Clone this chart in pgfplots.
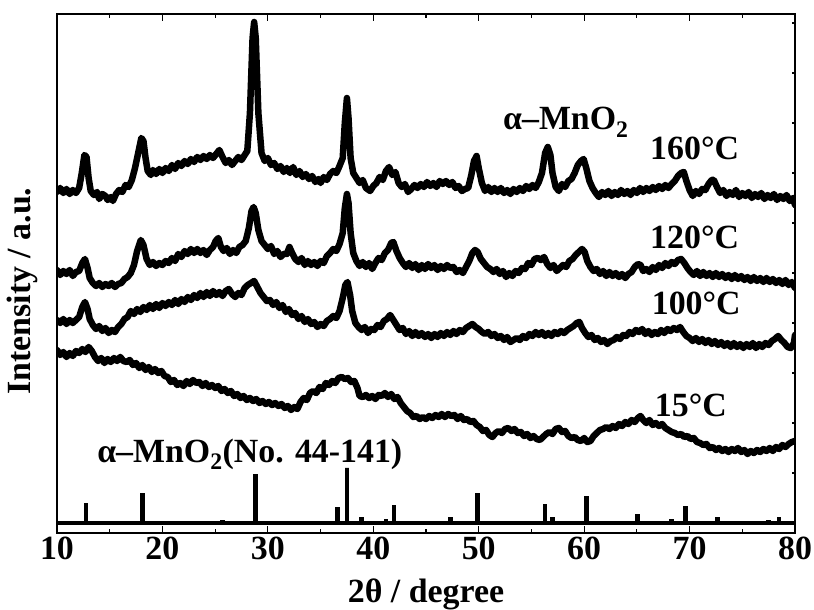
\documentclass[border=0pt]{standalone}
\usepackage{fontspec}
\setmainfont{Liberation Serif}
\usepackage{pgfplots}
\pgfplotsset{compat=1.18}

\begin{document}
\begin{tikzpicture}
\path[use as bounding box] (-57bp,-77bp) rectangle (757bp,533bp);
\begin{axis}[
  at={(0,0)}, anchor=south west,
  scale only axis, width=738bp, height=519bp,
  xmin=10, xmax=80, ymin=0, ymax=519,
  xtick={10,20,...,80}, minor x tick num=1,
  ytick=\empty, ytick pos=right,
  extra y ticks={10,60,...,510}, extra y tick labels={},
  extra y tick style={major tick length=3bp},
  tick align=inside,
  major tick length=7bp, minor tick length=4bp,
  axis line style={line width=1.5bp},
  tick style={line width=1.2bp, black},
  /pgf/number format/assume math mode=true,
  ticklabel style={font=\fontsize{34}{38}\selectfont\bfseries},
  label style={font=\fontsize{34}{38}\selectfont\bfseries},
  xlabel={2θ / degree},
  ylabel={Intensity / a.u.},
  xlabel style={at={(axis description cs:0.5,0)}, anchor=base, yshift=-69bp},
  ylabel style={at={(axis description cs:-0.047,0.466)}, anchor=center},
  every axis plot/.append style={black, line join=round, line cap=round},
]
% 160 C
\addplot[line width=6.5bp] coordinates {
(10.0,341)(10.3,345)(10.6,340)(10.9,344)(11.2,339)(11.5,343)(11.8,340)(12.1,345)(12.35,360)(12.6,378)
(12.8,376)(13.0,355)(13.2,342)(13.5,338)(13.8,341)(14.0,334)(14.3,339)(14.6,337)(14.8,333)(15.1,336)
(15.3,332)(15.6,339)(15.9,343)(16.2,341)(16.5,348)(16.8,346)(17.1,353)(17.4,365)(17.7,380)(18.0,395)
(18.2,392)(18.4,375)(18.6,362)(18.9,358)(19.1,363)(19.4,359)(19.7,364)(20.0,360)(20.3,365)(20.6,362)
(20.9,368)(21.2,364)(21.5,370)(21.8,367)(22.1,372)(22.4,369)(22.7,374)(23.0,371)(23.3,376)(23.6,373)
(23.9,377)(24.2,374)(24.5,378)(24.8,375)(25.1,379)(25.4,383)(25.7,376)(26.0,370)(26.3,373)(26.6,368)
(26.9,372)(27.2,376)(27.5,373)(27.8,378)(28.05,382)(28.3,420)(28.55,495)(28.7,511)(28.85,495)(29.1,420)
(29.4,380)(29.7,372)(30.0,375)(30.3,368)(30.6,370)(30.9,364)(31.2,367)(31.5,361)(31.8,365)(32.1,360)
(32.4,366)(32.7,358)(33.0,362)(33.3,356)(33.6,359)(33.9,354)(34.2,357)(34.5,351)(34.8,354)(35.0,350)
(35.3,356)(35.6,353)(35.9,359)(36.2,362)(36.5,360)(36.8,367)(37.1,375)(37.3,410)(37.5,435)(37.65,415)
(37.85,375)(38.1,360)(38.4,355)(38.7,350)(39.0,353)(39.3,345)(39.7,342)(40.0,347)(40.3,350)(40.6,356)
(40.9,353)(41.2,362)(41.5,366)(41.8,358)(42.1,361)(42.4,350)(42.7,346)(43.0,349)(43.3,341)(43.6,344)
(43.9,348)(44.2,345)(44.5,349)(44.8,346)(45.1,351)(45.4,347)(45.7,350)(46.0,346)(46.3,352)(46.6,349)
(46.9,352)(47.2,348)(47.5,351)(47.8,345)(48.1,347)(48.4,342)(48.7,344)(49.0,345)(49.3,358)(49.55,372)
(49.8,377)(50.0,365)(50.3,350)(50.6,342)(50.9,346)(51.2,341)(51.5,345)(51.8,341)(52.1,345)(52.4,340)
(52.7,343)(53.0,339)(53.3,344)(53.6,341)(53.9,345)(54.2,342)(54.5,347)(54.8,344)(55.1,348)(55.4,345)
(55.7,351)(56.0,360)(56.3,380)(56.55,386)(56.8,378)(57.0,360)(57.3,346)(57.6,342)(57.9,349)(58.2,346)
(58.5,352)(58.8,354)(59.1,360)(59.4,368)(59.7,372)(59.95,374)(60.2,365)(60.5,352)(60.8,345)(61.1,340)
(61.4,336)(61.7,341)(62.0,338)(62.3,342)(62.6,337)(62.9,341)(63.2,338)(63.5,343)(63.8,339)(64.1,342)
(64.4,338)(64.7,343)(65.0,340)(65.3,345)(65.6,341)(65.9,345)(66.2,342)(66.5,346)(66.8,343)(67.1,347)
(67.4,344)(67.7,348)(68.0,345)(68.3,349)(68.6,352)(68.9,357)(69.2,360)(69.45,361)(69.7,352)(70.0,343)
(70.3,337)(70.6,342)(70.9,339)(71.2,344)(71.5,343)(71.8,349)(72.1,353)(72.3,353)(72.6,346)(72.9,340)
(73.2,343)(73.5,337)(73.8,341)(74.1,338)(74.4,343)(74.7,336)(75.0,340)(75.3,337)(75.6,341)(75.9,335)
(76.2,339)(76.5,336)(76.8,340)(77.1,334)(77.4,338)(77.7,335)(78.0,339)(78.3,333)(78.6,337)(78.9,334)
(79.2,338)(79.5,332)(79.8,335)(80.0,328)
};
% 120 C
\addplot[line width=6.5bp] coordinates {
(10.0,263)(10.3,258)(10.6,262)(10.9,259)(11.2,263)(11.5,257)(11.8,261)(12.1,262)(12.4,270)(12.65,274)
(12.9,265)(13.1,255)(13.4,250)(13.7,247)(14.0,250)(14.3,246)(14.6,249)(14.9,247)(15.2,250)(15.5,246)
(15.8,249)(16.1,250)(16.4,254)(16.7,256)(17.0,260)(17.3,268)(17.6,282)(17.95,293)(18.2,288)(18.5,274)
(18.8,268)(19.1,271)(19.4,267)(19.7,270)(20.0,268)(20.3,272)(20.6,270)(20.9,275)(21.2,272)(21.5,279)
(21.8,276)(22.1,282)(22.4,279)(22.7,284)(23.0,280)(23.3,284)(23.6,280)(23.9,283)(24.2,278)(24.5,283)
(24.8,286)(25.05,292)(25.3,295)(25.55,286)(25.8,282)(26.1,285)(26.4,279)(26.7,283)(27.0,280)(27.3,286)
(27.6,288)(27.9,292)(28.2,305)(28.45,322)(28.65,326)(28.85,320)(29.1,303)(29.4,292)(29.7,288)(30.0,284)
(30.3,287)(30.6,279)(30.9,282)(31.2,276)(31.5,279)(31.8,279)(32.05,286)(32.3,280)(32.6,274)(32.9,271)
(33.2,275)(33.5,268)(33.8,272)(34.1,268)(34.4,271)(34.7,267)(35.0,272)(35.3,270)(35.6,277)(35.9,280)
(36.2,284)(36.5,282)(36.8,289)(37.1,300)(37.3,325)(37.5,339)(37.65,330)(37.85,300)(38.1,280)(38.4,272)
(38.7,267)(39.0,271)(39.3,266)(39.6,270)(39.9,264)(40.2,270)(40.5,275)(40.8,273)(41.1,280)(41.4,283)
(41.7,290)(41.9,291)(42.2,282)(42.5,275)(42.8,270)(43.1,266)(43.4,270)(43.7,265)(44.0,269)(44.3,263)
(44.6,268)(44.9,264)(45.2,269)(45.5,265)(45.8,268)(46.1,263)(46.4,267)(46.7,264)(47.0,268)(47.3,265)
(47.6,266)(47.9,261)(48.2,263)(48.5,260)(48.8,266)(49.1,272)(49.4,280)(49.65,283)(49.9,281)(50.2,274)
(50.5,270)(50.8,266)(51.1,264)(51.4,261)(51.7,264)(52.0,259)(52.3,262)(52.6,256)(52.9,260)(53.2,257)
(53.5,262)(53.8,260)(54.1,265)(54.4,264)(54.7,270)(55.0,268)(55.3,274)(55.6,275)(55.9,273)(56.2,276)
(56.5,269)(56.8,265)(57.1,268)(57.4,262)(57.7,265)(58.0,268)(58.3,266)(58.6,272)(58.9,274)(59.2,278)
(59.5,281)(59.8,284)(60.05,281)(60.3,272)(60.6,266)(60.9,262)(61.2,264)(61.5,259)(61.8,262)(62.1,257)
(62.4,261)(62.7,257)(63.0,260)(63.3,256)(63.6,259)(63.9,255)(64.2,259)(64.5,261)(64.8,266)(65.1,269)
(65.35,268)(65.6,262)(65.9,264)(66.2,261)(66.5,266)(66.8,263)(67.1,268)(67.4,265)(67.7,270)(68.0,267)
(68.3,271)(68.6,269)(68.9,273)(69.2,274)(69.5,270)(69.8,265)(70.1,261)(70.4,258)(70.7,262)(71.0,257)
(71.3,261)(71.6,257)(71.9,260)(72.2,256)(72.5,260)(72.8,256)(73.1,259)(73.4,255)(73.7,258)(74.0,254)
(74.3,258)(74.6,254)(74.9,257)(75.2,253)(75.5,256)(75.8,252)(76.1,256)(76.4,252)(76.7,255)(77.0,251)
(77.3,255)(77.6,251)(77.9,254)(78.2,250)(78.5,253)(78.8,249)(79.1,253)(79.4,248)(79.7,251)(80.0,245)
};
% 100 C
\addplot[line width=6.5bp] coordinates {
(10.0,213)(10.3,210)(10.6,214)(10.9,209)(11.2,213)(11.5,210)(11.8,213)(12.1,216)(12.4,226)(12.65,231)
(12.9,224)(13.1,214)(13.4,208)(13.7,204)(14.0,207)(14.3,202)(14.6,205)(14.9,200)(15.2,203)(15.5,201)
(15.8,206)(16.1,209)(16.4,214)(16.7,216)(17.0,222)(17.3,219)(17.6,224)(17.9,221)(18.2,226)(18.5,223)
(18.8,228)(19.1,224)(19.4,229)(19.7,225)(20.0,230)(20.3,227)(20.6,231)(20.9,228)(21.2,233)(21.5,229)
(21.8,234)(22.1,231)(22.4,236)(22.7,233)(23.0,238)(23.3,235)(23.6,240)(23.9,236)(24.2,241)(24.5,237)
(24.8,242)(25.1,238)(25.4,241)(25.7,237)(26.0,242)(26.3,244)(26.6,239)(26.9,236)(27.2,240)(27.5,238)
(27.8,245)(28.1,248)(28.4,250)(28.7,252)(29.0,246)(29.3,240)(29.6,236)(29.9,232)(30.2,233)(30.5,228)
(30.8,231)(31.1,225)(31.4,228)(31.7,221)(32.0,224)(32.3,218)(32.6,220)(32.9,214)(33.2,217)(33.5,211)
(33.8,214)(34.1,209)(34.4,211)(34.7,206)(35.0,209)(35.3,207)(35.6,212)(35.9,214)(36.2,217)(36.5,215)
(36.8,222)(37.1,235)(37.35,248)(37.55,251)(37.8,238)(38.0,222)(38.3,210)(38.6,206)(38.9,203)(39.2,206)
(39.5,200)(39.8,204)(40.1,203)(40.4,208)(40.7,206)(41.0,212)(41.3,214)(41.6,218)(41.9,213)(42.2,208)
(42.5,203)(42.8,205)(43.1,199)(43.4,202)(43.7,197)(44.0,201)(44.3,197)(44.6,200)(44.9,196)(45.2,199)
(45.5,195)(45.8,199)(46.1,196)(46.4,200)(46.7,197)(47.0,201)(47.3,198)(47.6,202)(47.9,199)(48.2,203)
(48.5,201)(48.8,205)(49.1,207)(49.4,209)(49.7,206)(50.0,204)(50.3,201)(50.6,199)(50.9,201)(51.2,197)
(51.5,199)(51.8,195)(52.1,197)(52.4,193)(52.7,196)(53.0,191)(53.3,193)(53.6,195)(53.9,193)(54.2,197)
(54.5,195)(54.8,199)(55.1,197)(55.4,201)(55.7,198)(56.0,201)(56.3,197)(56.6,200)(56.9,197)(57.2,201)
(57.5,199)(57.8,202)(58.1,200)(58.4,203)(58.7,205)(59.0,207)(59.3,210)(59.55,211)(59.8,205)(60.1,200)
(60.4,196)(60.7,198)(61.0,193)(61.3,195)(61.6,191)(61.9,193)(62.2,189)(62.5,192)(62.8,193)(63.1,196)
(63.4,194)(63.7,198)(64.0,197)(64.3,201)(64.6,199)(64.9,203)(65.2,201)(65.5,204)(65.8,199)(66.1,202)
(66.4,198)(66.7,201)(67.0,199)(67.3,203)(67.6,200)(67.9,204)(68.2,202)(68.5,205)(68.8,203)(69.1,206)
(69.4,201)(69.7,197)(70.0,195)(70.3,192)(70.6,195)(70.9,191)(71.2,194)(71.5,190)(71.8,193)(72.1,189)
(72.4,192)(72.7,188)(73.0,191)(73.3,187)(73.6,190)(73.9,186)(74.2,190)(74.5,186)(74.8,189)(75.1,185)
(75.4,189)(75.7,186)(76.0,190)(76.3,185)(76.6,189)(76.9,186)(77.2,190)(77.5,188)(77.8,192)(78.1,194)
(78.4,197)(78.7,193)(79.0,190)(79.3,186)(79.6,185)(79.9,190)(80.0,198)
};
% 15 C
\addplot[line width=6.5bp] coordinates {
(10.0,183)(10.3,178)(10.6,181)(10.9,176)(11.2,180)(11.5,177)(11.8,182)(12.1,180)(12.4,184)(12.7,181)
(13.0,186)(13.3,182)(13.6,176)(13.9,172)(14.2,175)(14.5,170)(14.8,174)(15.1,171)(15.4,175)(15.7,172)
(16.0,176)(16.3,172)(16.6,171)(16.9,173)(17.2,168)(17.5,170)(17.8,165)(18.1,168)(18.4,163)(18.7,166)
(19.0,161)(19.3,164)(19.6,160)(19.9,162)(20.2,157)(20.5,156)(20.8,151)(21.1,153)(21.4,148)(21.7,150)
(22.0,147)(22.3,152)(22.6,149)(22.9,153)(23.2,150)(23.5,151)(23.8,147)(24.1,150)(24.4,146)(24.7,148)
(25.0,145)(25.3,147)(25.6,142)(25.9,144)(26.2,140)(26.5,142)(26.8,137)(27.1,139)(27.4,135)(27.7,137)
(28.0,133)(28.3,135)(28.6,132)(28.9,134)(29.2,130)(29.5,132)(29.8,129)(30.1,131)(30.4,128)(30.7,130)
(31.0,127)(31.3,129)(31.6,125)(31.9,127)(32.2,123)(32.5,126)(32.8,124)(33.1,131)(33.4,135)(33.7,133)
(34.0,140)(34.3,142)(34.6,140)(34.9,146)(35.2,144)(35.5,150)(35.8,148)(36.1,152)(36.4,150)(36.7,155)
(37.0,156)(37.3,154)(37.6,155)(37.9,151)(38.2,152)(38.5,145)(38.7,137)(39.0,136)(39.3,138)(39.6,135)
(39.9,137)(40.2,134)(40.5,138)(40.8,137)(41.1,140)(41.4,136)(41.7,139)(42.0,134)(42.3,136)(42.6,130)
(42.9,126)(43.2,122)(43.5,120)(43.8,116)(44.1,117)(44.4,114)(44.7,116)(45.0,114)(45.3,117)(45.6,115)
(45.9,118)(46.2,116)(46.5,119)(46.8,116)(47.1,119)(47.4,117)(47.7,118)(48.0,114)(48.3,117)(48.6,113)
(48.9,114)(49.2,111)(49.5,112)(49.8,108)(50.1,106)(50.4,102)(50.7,103)(51.0,98)(51.3,96)(51.6,100)
(51.9,102)(52.2,100)(52.5,104)(52.8,105)(53.1,102)(53.4,104)(53.7,100)(54.0,101)(54.3,97)(54.6,99)
(54.9,95)(55.2,97)(55.5,94)(55.8,93)(56.1,96)(56.4,99)(56.7,101)(57.0,99)(57.3,104)(57.6,105)
(57.9,101)(58.2,102)(58.5,97)(58.8,95)(59.1,96)(59.4,93)(59.7,92)(60.0,95)(60.3,91)(60.6,92)
(60.9,97)(61.2,100)(61.5,103)(61.8,104)(62.1,106)(62.4,104)(62.7,107)(63.0,105)(63.3,109)(63.6,107)
(63.9,111)(64.2,109)(64.5,113)(64.8,111)(65.1,115)(65.35,117)(65.6,113)(65.9,110)(66.2,113)(66.5,108)
(66.8,110)(67.1,107)(67.4,109)(67.7,105)(68.0,103)(68.3,101)(68.6,100)(68.9,98)(69.2,99)(69.5,96)
(69.8,97)(70.1,94)(70.4,95)(70.7,91)(71.0,90)(71.3,88)(71.6,89)(71.9,85)(72.2,86)(72.5,83)
(72.8,85)(73.1,82)(73.4,84)(73.7,81)(74.0,84)(74.3,82)(74.6,85)(74.9,81)(75.2,83)(75.5,79)
(75.8,82)(76.1,80)(76.4,83)(76.7,81)(77.0,84)(77.3,82)(77.6,85)(77.9,82)(78.2,86)(78.5,84)
(78.8,88)(79.1,86)(79.4,89)(79.7,91)(80.0,92)
};
% reference pattern
\addplot[line width=4.5bp, line join=miter, line cap=butt] coordinates {
(10,10)(12.75,10)(12.75,30)(12.75,10)(18.1,10)(18.1,40)(18.1,10)
(25.7,10)(25.7,13)(25.7,10)(28.85,10)(28.85,59)(28.85,10)
(36.6,10)(36.6,26)(36.6,10)(37.5,10)(37.5,65)(37.5,10)
(38.9,10)(38.9,16)(38.9,10)(41.2,10)(41.2,14)(41.2,10)(41.96,10)(41.96,28)(41.96,10)
(47.34,10)(47.34,16)(47.34,10)(49.87,10)(49.87,40)(49.87,10)
(56.29,10)(56.29,29)(56.29,10)(57.0,10)(57.0,16)(57.0,10)
(60.24,10)(60.24,37)(60.24,10)(65.04,10)(65.04,19)(65.04,10)
(68.3,10)(68.3,14)(68.3,10)(69.63,10)(69.63,27)(69.63,10)
(72.67,10)(72.67,16)(72.67,10)(77.5,10)(77.5,13)(77.5,10)
(78.5,10)(78.5,16)(78.5,10)(80,10)
};
\begin{scope}[every node/.style={inner sep=0pt, font=\fontsize{34}{38}\selectfont\bfseries}]
\node[anchor=base west] at (axis cs:52.3,403) {α–MnO\textsubscript{2}};
\node[anchor=base west] at (axis cs:66.25,373) {160°C};
\node[anchor=base west] at (axis cs:66.25,284) {120°C};
\node[anchor=base west] at (axis cs:66.4,218) {100°C};
\node[anchor=base west] at (axis cs:66.7,116) {15°C};
\node[anchor=base west] at (axis cs:13.8,71) {α–MnO\textsubscript{2}(No. 44-141)};
\end{scope}
\end{axis}
\end{tikzpicture}
\end{document}
